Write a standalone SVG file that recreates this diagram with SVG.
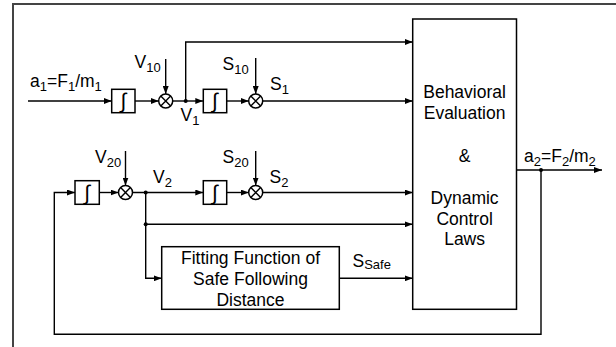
<svg xmlns="http://www.w3.org/2000/svg" width="616" height="347" viewBox="0 0 616 347">
<defs>
<marker id="ar" markerWidth="8" markerHeight="6" refX="8" refY="3" orient="auto" markerUnits="userSpaceOnUse">
<path d="M0,0 L8,3 L0,6 Z" fill="#000"/>
</marker>
<style>
.w{fill:none;stroke:#000;stroke-width:1.4}
.a{fill:none;stroke:#000;stroke-width:1.4;marker-end:url(#ar)}
.b{fill:#fff;stroke:#000;stroke-width:1.5}
.t{font-family:"Liberation Sans",Arial,sans-serif;font-size:17.5px;fill:#000}
.i{font-family:"Liberation Sans",Arial,sans-serif;font-size:21px;fill:#000;text-anchor:middle}
.c{text-anchor:middle}
.s{font-size:13px}
.d{fill:#000}
</style>
</defs>
<rect width="616" height="347" fill="#fff"/>
<path d="M13,347 V4 H616" fill="none" stroke="#444" stroke-width="2"/>

<g id="connectors">
<path class="a" d="M28,101 H111.7"/>
<path class="a" d="M135,101 H158.7"/>
<path class="a" d="M165.7,59 V94"/>
<path class="a" d="M172.7,101 H203.3"/>
<path class="a" d="M185.7,101 V42 H412.7"/>
<path class="a" d="M226.7,101 H248.7"/>
<path class="a" d="M255.7,58 V94"/>
<path class="a" d="M262.7,101 H412.7"/>
<path class="a" d="M99.3,192.5 H118.5"/>
<path class="a" d="M125.5,151 V185.5"/>
<path class="a" d="M132.5,192.5 H203.3"/>
<path class="a" d="M226.7,192.5 H248.7"/>
<path class="a" d="M255.7,151 V185.5"/>
<path class="a" d="M262.7,192.5 H412.7"/>
<path class="a" d="M145.7,192.5 V278.3 H161.7"/>
<path class="a" d="M145.7,224.3 H412.7"/>
<path class="a" d="M339.3,278.3 H412.7"/>
<path class="a" d="M516.5,170 H602"/>
<path class="a" d="M541,170 V334.3 H54.3 V192.5 H75"/>
<circle class="d" cx="185.7" cy="101" r="2"/>
<circle class="d" cx="145.7" cy="192.5" r="2"/>
<circle class="d" cx="145.7" cy="224.3" r="2"/>
<circle class="d" cx="541" cy="170" r="2"/>
</g>

<g id="int1"><rect class="b" x="111.7" y="89.3" width="23.3" height="23.4"/><text class="i" x="123.3" y="108">∫</text></g>
<g id="int2"><rect class="b" x="203.3" y="89.3" width="23.4" height="23.4"/><text class="i" x="215" y="108">∫</text></g>
<g id="int3"><rect class="b" x="75" y="180.7" width="24.3" height="23.6"/><text class="i" x="87.1" y="199.5">∫</text></g>
<g id="int4"><rect class="b" x="203.3" y="180.7" width="23.4" height="23.6"/><text class="i" x="215" y="199.5">∫</text></g>

<g id="mul1"><circle class="b" cx="165.7" cy="101" r="7"/><path class="w" d="M160.8,96.1 L170.6,105.9 M160.8,105.9 L170.6,96.1"/></g>
<g id="mul2"><circle class="b" cx="255.7" cy="101" r="7"/><path class="w" d="M250.8,96.1 L260.6,105.9 M250.8,105.9 L260.6,96.1"/></g>
<g id="mul3"><circle class="b" cx="125.5" cy="192.5" r="7"/><path class="w" d="M120.6,187.6 L130.4,197.4 M120.6,197.4 L130.4,187.6"/></g>
<g id="mul4"><circle class="b" cx="255.7" cy="192.5" r="7"/><path class="w" d="M250.8,187.6 L260.6,197.4 M250.8,197.4 L260.6,187.6"/></g>

<g id="eval">
<rect class="b" x="412.7" y="19" width="103.8" height="290.3"/>
<text class="t c" x="464.6" y="97.5">Behavioral</text>
<text class="t c" x="464.6" y="118.5">Evaluation</text>
<text class="t c" x="464.6" y="161.5">&amp;</text>
<text class="t c" x="464.6" y="203.5">Dynamic</text>
<text class="t c" x="464.6" y="224.5">Control</text>
<text class="t c" x="464.6" y="245">Laws</text>
</g>

<g id="fitting">
<rect class="b" x="161.7" y="246.7" width="177.6" height="62.6"/>
<text class="t c" x="250.5" y="264.3">Fitting Function of</text>
<text class="t c" x="250.5" y="285">Safe Following</text>
<text class="t c" x="250.5" y="306">Distance</text>
</g>

<g id="labels">
<text class="t" x="30" y="87">a<tspan class="s" dy="4">1</tspan><tspan dy="-4">=F</tspan><tspan class="s" dy="4">1</tspan><tspan dy="-4">/m</tspan><tspan class="s" dy="4">1</tspan></text>
<text class="t" x="134.5" y="68">V<tspan class="s" dy="4">10</tspan></text>
<text class="t" x="222.5" y="70">S<tspan class="s" dy="4">10</tspan></text>
<text class="t" x="270" y="90">S<tspan class="s" dy="4">1</tspan></text>
<text class="t" x="180.5" y="120.5">V<tspan class="s" dy="4">1</tspan></text>
<text class="t" x="95" y="163">V<tspan class="s" dy="4">20</tspan></text>
<text class="t" x="222.5" y="163">S<tspan class="s" dy="4">20</tspan></text>
<text class="t" x="153" y="183">V<tspan class="s" dy="4">2</tspan></text>
<text class="t" x="269.5" y="183">S<tspan class="s" dy="4">2</tspan></text>
<text class="t" x="352.5" y="266.5">S<tspan class="s" dy="2">Safe</tspan></text>
<text class="t" x="524" y="162">a<tspan class="s" dy="4">2</tspan><tspan dy="-4">=F</tspan><tspan class="s" dy="4">2</tspan><tspan dy="-4">/m</tspan><tspan class="s" dy="4">2</tspan></text>
</g>
</svg>
